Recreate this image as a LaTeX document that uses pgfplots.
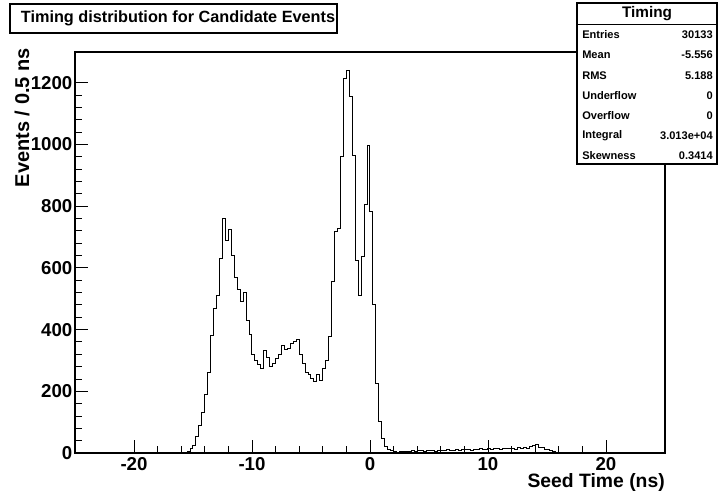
\documentclass[border=0pt]{standalone}
\usepackage{fontspec}
\setmainfont{Liberation Sans}
\usepackage{pgfplots}
\pgfplotsset{compat=1.18}

% bin contents, 0.25 ns bins (left edge, entries)
\pgfplotstableread{
t n
-25 0
-16.25 0
-16.0 1
-15.75 2
-15.5 5
-15.25 13
-15.0 25
-14.75 55
-14.5 90
-14.25 130
-14.0 190
-13.75 260
-13.5 380
-13.25 470
-13.0 510
-12.75 630
-12.5 760
-12.25 690
-12.0 725
-11.75 640
-11.5 570
-11.25 530
-11.0 490
-10.75 520
-10.5 430
-10.25 385
-10.0 320
-9.75 300
-9.5 288
-9.25 273
-9.0 331
-8.75 310
-8.5 280
-8.25 290
-8.0 305
-7.75 320
-7.5 350
-7.25 337
-7.0 338
-6.75 356
-6.5 360
-6.25 367
-6.0 320
-5.75 290
-5.5 262
-5.25 256
-5.0 243
-4.75 232
-4.5 254
-4.25 234
-4.0 275
-3.75 300
-3.5 377
-3.25 555
-3.0 718
-2.75 728
-2.5 961
-2.25 1215
-2.0 1240
-1.75 1155
-1.5 966
-1.25 623
-1.0 509
-0.75 636
-0.5 807
-0.25 998
0.0 782
0.25 480
0.5 226
0.75 102
1.0 48
1.25 21
1.5 12
1.75 8
2.0 4
2.25 3
2.5 5
2.75 4
3.0 6
3.25 5
3.5 7
3.75 6
4.0 8
4.25 7
4.5 6
4.75 8
5.0 9
5.25 7
5.5 6
5.75 8
6.0 7
6.25 9
6.5 10
6.75 8
7.0 9
7.25 11
7.5 9
7.75 10
8.0 12
8.25 10
8.5 9
8.75 12
9.0 11
9.25 13
9.5 10
9.75 12
10.0 14
10.25 11
10.5 13
10.75 15
11.0 12
11.25 14
11.5 16
11.75 13
12.0 15
12.25 12
12.5 17
12.75 14
13.0 18
13.25 16
13.5 22
13.75 25
14.0 28
14.25 18
14.5 17
14.75 12
15.0 11
15.25 8
15.5 6
15.75 3
16.0 2
16.25 1
16.5 0
25 0
}\timing

\begin{document}
\begin{tikzpicture}[x=0.75pt,y=0.75pt]
\path[use as bounding box] (0,0) rectangle (719,500);
\begin{axis}[
  at={(56.25pt,35.25pt)}, anchor=south west,
  scale only axis, width=442.5pt, height=300.75pt,
  xmin=-25, xmax=25, ymin=0, ymax=1300,
  axis line style={line width=0.9pt},
  tick align=inside, xtick pos=bottom, ytick pos=left,
  xtick={-20,-10,0,10,20}, xticklabels={-20,-10,0,10,20},
  ytick={0,200,...,1200}, yticklabels={0,200,400,600,800,1000,1200},
  minor x tick num=4, minor y tick num=4,
  major tick length=9.75pt, minor tick length=5.25pt,
  every tick/.style={black, line width=0.7pt},
  tick label style={font=\fontsize{14}{16}\selectfont\bfseries},
  yticklabel style={xshift=1.5pt},
  xticklabel style={yshift=0.5pt},
]
\addplot[const plot, black, line width=0.75pt] table[x=t, y=n] {\timing};
\end{axis}

% axis titles
\node[rotate=90, anchor=east, inner sep=0pt, font=\fontsize{15}{17}\selectfont\bfseries] at (22,452) {Events / 0.5 ns};
\node[anchor=base east, inner sep=0pt, font=\fontsize{14.5}{16}\selectfont\bfseries] at (665,12) {Seed Time (ns)};

% title box
\draw[line width=0.8pt, fill=white] (10,496) rectangle (337,467);
\node[inner sep=0pt, font=\fontsize{12.2}{14}\selectfont\bfseries] at (178,481.5) {Timing distribution for Candidate Events};

% stats box
\draw[line width=0.8pt, fill=white] (577,497) rectangle (717,336);
\draw[line width=0.6pt] (577,476) -- (717,476);
\node[font=\fontsize{11.5}{13}\selectfont\bfseries] at (647,486) {Timing};
\begin{scope}[every node/.style={font=\fontsize{8.3}{9}\selectfont\bfseries, inner sep=0pt}]
\foreach \lab/\val/\yy in {Entries/30133/465, Mean/-5.556/445, RMS/5.188/424, Underflow/0/404, Overflow/0/384, Integral/3.013e+04/364, Skewness/0.3414/344} {
  \node[anchor=west] at (582,\yy) {\lab};
  \node[anchor=east] at (713,\yy) {\val};
}
\end{scope}
\end{tikzpicture}
\end{document}
